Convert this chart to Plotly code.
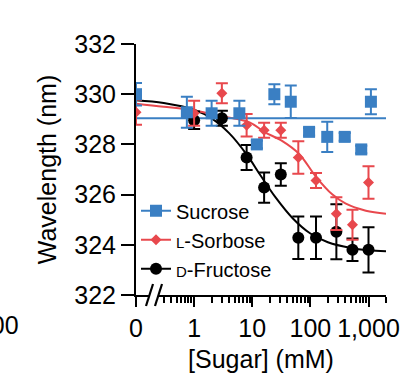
import plotly.graph_objects as go

# ---------------- data ----------------
# concentrations in mM (0 = no sugar, drawn at the left of the axis break)
conc_sucrose = [0, 0.75, 2, 6, 12, 24, 46, 95, 195, 390, 750, 1100]
wl_sucrose = [330.0, 329.28, 329.24, 329.24, 328.0, 330.0, 329.7, 328.5, 328.3, 328.3, 327.8, 329.7]
err_sucrose = [0.45, 0.62, 0.5, 0.5, 0.15, 0.4, 0.65, 0.15, 0.6, 0.15, 0.15, 0.5]

conc_sorbose = [0, 1, 3, 8, 16, 31, 62, 125, 280, 530, 1000]
wl_sorbose = [329.28, 329.24, 330.04, 328.76, 328.56, 328.56, 327.48, 326.56, 325.24, 324.8, 326.48]
err_sorbose = [0.5, 0.5, 0.4, 0.45, 0.3, 0.3, 0.65, 0.3, 0.65, 0.6, 0.65]

conc_fructose = [1, 3, 8, 16, 31, 62, 125, 280, 530, 1000]
wl_fructose = [328.96, 329.04, 327.48, 326.28, 326.8, 324.28, 324.28, 324.52, 323.8, 323.8]
err_fructose = [0.35, 0.3, 0.5, 0.6, 0.45, 0.85, 0.85, 1.1, 0.45, 0.9]

# fitted curves
fit_sucrose_conc = [0, 2000]
fit_sucrose_wl = [329.04, 329.04]
fit_sorbose_conc = [0, 0.3, 1, 3, 9, 16, 32, 64, 126, 240, 400, 900, 2000]
fit_sorbose_wl = [329.62, 329.5, 329.35, 329.12, 328.88, 328.5, 328.15, 327.62, 326.7, 326.0, 325.65, 325.36, 325.24]
fit_fructose_conc = [0, 0.3, 1, 2, 4, 8, 14, 25, 50, 100, 200, 500, 1000, 2000]
fit_fructose_wl = [329.76, 329.65, 329.38, 329.04, 328.45, 327.6, 326.75, 325.9, 325.05, 324.45, 324.1, 323.87, 323.78, 323.74]

x_tick_vals = [0, 1, 10, 100, 1000]
x_tick_text = ["0", "1", "10", "100", "1,000"]
y_tick_vals = [322, 324, 326, 328, 330, 332]

series_names = ["Sucrose", "<span style='font-size:15px'>L</span>-Sorbose",
                "<span style='font-size:15px'>D</span>-Fructose"]

# ---------------- styling ----------------
BLUE = "#3a7fc3"
RED = "#e8484d"
BLACK = "#000000"
FONT = "Liberation Sans, Arial, Helvetica, sans-serif"
ZERO_AT = 0.1  # where concentration 0 sits on the broken log axis


def pos(values):
    return [v if v > 0 else ZERO_AT for v in values]


fig = go.Figure()

# fitted lines
for cx, cy, col in [(fit_fructose_conc, fit_fructose_wl, BLACK),
                    (fit_sorbose_conc, fit_sorbose_wl, RED),
                    (fit_sucrose_conc, fit_sucrose_wl, BLUE)]:
    fig.add_trace(go.Scatter(x=pos(cx), y=cy, mode="lines", line=dict(color=col, width=2, shape="spline"),
                             showlegend=False, hoverinfo="skip"))

# data points with error bars (fructose at bottom, sucrose on top)
fig.add_trace(go.Scatter(x=pos(conc_fructose), y=wl_fructose, mode="markers",
                         marker=dict(symbol="circle", size=12, color=BLACK),
                         error_y=dict(type="data", array=err_fructose, color=BLACK, thickness=2, width=6),
                         showlegend=False))
fig.add_trace(go.Scatter(x=pos(conc_sorbose), y=wl_sorbose, mode="markers",
                         marker=dict(symbol="diamond", size=8.5, color=RED),
                         error_y=dict(type="data", array=err_sorbose, color=RED, thickness=2, width=6),
                         showlegend=False))
fig.add_trace(go.Scatter(x=pos(conc_sucrose), y=wl_sucrose, mode="markers",
                         marker=dict(symbol="square", size=12, color=BLUE),
                         error_y=dict(type="data", array=err_sucrose, color=BLUE, thickness=2, width=6),
                         showlegend=False))

# legend entries (line + marker)
for name, col, sym, sz in [(series_names[0], BLUE, "square", 12),
                           (series_names[1], RED, "diamond", 8.5),
                           (series_names[2], BLACK, "circle", 12)]:
    fig.add_trace(go.Scatter(x=[None], y=[None], mode="lines+markers", name=name,
                             line=dict(color=col, width=2), marker=dict(symbol=sym, size=sz, color=col)))

# target pixel geometry in the 402x380 window
W, H = 402, 380
PL, PR, PT, PB = 136, 386, 44, 295
L, T, R, B = PL, PT, W - PR, H - PB
pw, ph = PR - PL, PB - PT


def px_x(p):
    return (p - PL) / pw


def px_y(p):
    return (PB - p) / ph


minor_vals = [m * d for d in [0.1, 1, 10, 100] for m in range(2, 10) if m * d >= 0.3] + [2000]

fig.update_layout(
    template="none",
    width=W, height=H,
    margin=dict(l=L, r=R, t=T, b=B, autoexpand=False),
    paper_bgcolor="white", plot_bgcolor="white",
    font=dict(family=FONT, size=25, color="black"),
    showlegend=True,
    legend=dict(x=0.0, y=0.413, xanchor="left", yanchor="top", bgcolor="rgba(0,0,0,0)",
                font=dict(size=20, color="black"), tracegroupgap=0, itemsizing="trace"),
    xaxis=dict(type="log", range=[-1, 3.30103], showgrid=False, zeroline=False, automargin=False,
               showline=True, linecolor="black", linewidth=2, mirror=False,
               ticks="outside", ticklen=10, tickwidth=2, tickcolor="black",
               tickvals=[pos([v])[0] for v in x_tick_vals], ticktext=x_tick_text,
               tickfont=dict(size=25, color="black"),
               minor=dict(tickvals=minor_vals, ticks="outside", ticklen=6, tickwidth=1.5, tickcolor="black",
                          showgrid=False),
               title=dict(text="[Sugar] (mM)", font=dict(size=25, color="black"), standoff=9)),
    yaxis=dict(range=[322, 332], showgrid=False, zeroline=False, automargin=False,
               showline=True, linecolor="black", linewidth=2, mirror=False,
               ticks="outside", ticklen=13, tickwidth=2, tickcolor="black",
               tickvals=y_tick_vals, tickfont=dict(size=25, color="black"),
               title=dict(text="Wavelength (nm)", font=dict(size=25, color="black"), standoff=11)),
)

# axis break: mask the axis line and draw two slashes
fig.add_shape(type="rect", xref="paper", yref="paper", x0=px_x(149), x1=px_x(159),
              y0=px_y(300), y1=px_y(290), fillcolor="white", line=dict(width=0), layer="above")
for xa in (146, 155):
    fig.add_shape(type="line", xref="paper", yref="paper", x0=px_x(xa), y0=px_y(306),
                  x1=px_x(xa + 7), y1=px_y(284), line=dict(color="black", width=2.2), layer="above")

# fragment of the neighbouring panel's tick label at the far left
fig.add_annotation(text="1,000", xref="paper", yref="paper", x=px_x(21), y=px_y(325),
                   xanchor="right", yanchor="middle", showarrow=False, font=dict(size=25, color="black"))

fig.write_html("out.html", config={"displayModeBar": False},
               post_script="document.body.style.margin='0';document.body.style.padding='0';")
